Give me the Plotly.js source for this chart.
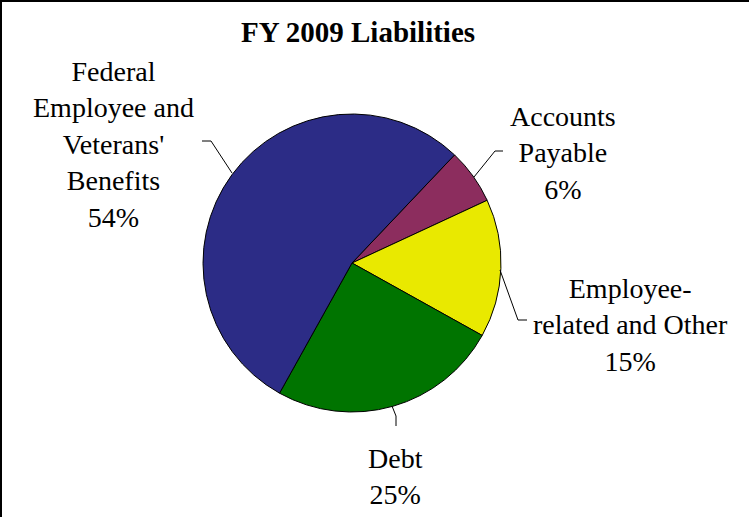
<!DOCTYPE html>
<html>
<head>
<meta charset="utf-8">
<script src="https://cdn.plot.ly/plotly-3.0.1.min.js"></script>
<style>html,body{margin:0;padding:0;background:#fff;}#chart{width:749px;height:517px;}</style>
</head>
<body>
<div id="chart"></div>
<script>
// Data (clockwise order starting from the top-right boundary)
const categories = ["Accounts Payable", "Employee-related and Other", "Debt", "Federal Employee and Veterans' Benefits"];
const labelLines = ["Accounts<br>Payable", "Employee-<br>related and Other", "Debt", "Federal<br>Employee and<br>Veterans'<br>Benefits"];
const values = [6, 15, 25, 54];
const sliceColors = ["#8c2d5e", "#e9e900", "#007400", "#2c2c86"];

const W = 749, H = 517;
const cx = 352, cy = 263, r = 149;
const FONT = 'Liberation Serif, Times New Roman, serif';

// label placement (text block centers, px)
const labelPos = [[563, 153], [630, 325], [395, 476], [113, 144]];
// leader lines (px)
const leaders = [
  [[503,151],[495,151],[474,177]],
  [[500,270],[518,320],[527,320]],
  [[392,406],[396,416],[396,426]],
  [[202,141],[211,141],[232,173]]
];

const total = values.reduce((a,b)=>a+b,0);
const px = x => x / W, py = y => 1 - y / H;

const annotations = categories.map((c,i)=>({
  xref:'paper', yref:'paper', x: px(labelPos[i][0]), y: py(labelPos[i][1]),
  xanchor:'center', yanchor:'middle', align:'center', showarrow:false,
  text: labelLines[i] + '<br>' + Math.round(values[i]/total*100) + '%',
  font:{family:FONT, size:28, color:'#000'}
}));

const shapes = leaders.map(pts=>({
  type:'path', xref:'paper', yref:'paper',
  path: pts.map((p,k)=>(k?'L':'M')+px(p[0])+','+py(p[1])).join(' '),
  line:{color:'#000', width:1}
}));
shapes.push({type:'line', xref:'paper', yref:'paper', x0:0, x1:1, y0:1, y1:1, line:{color:'#000', width:4}});
shapes.push({type:'line', xref:'paper', yref:'paper', x0:0, x1:0, y0:0, y1:1, line:{color:'#000', width:4}});

const trace = {
  type:'pie', labels:categories, values:values, sort:false, direction:'clockwise', rotation:43.5,
  marker:{colors:sliceColors, line:{color:'#000', width:1}},
  textinfo:'none', hoverinfo:'label+percent', showlegend:false,
  domain:{x:[(cx-r)/W, (cx+r)/W], y:[(H-cy-r)/H, (H-cy+r)/H]}
};

const layout = {
  width:W, height:H, margin:{l:0,r:0,t:0,b:0},
  paper_bgcolor:'#fff', plot_bgcolor:'#fff', showlegend:false,
  title:{text:'<b>FY 2009 Liabilities</b>', x:358/W, xanchor:'center', y:py(32), yanchor:'middle', yref:'paper',
    font:{family:FONT, size:29, color:'#000'}},
  annotations:annotations, shapes:shapes
};

Plotly.newPlot('chart', [trace], layout, {staticPlot:true, displayModeBar:false});
</script>
</body>
</html>
